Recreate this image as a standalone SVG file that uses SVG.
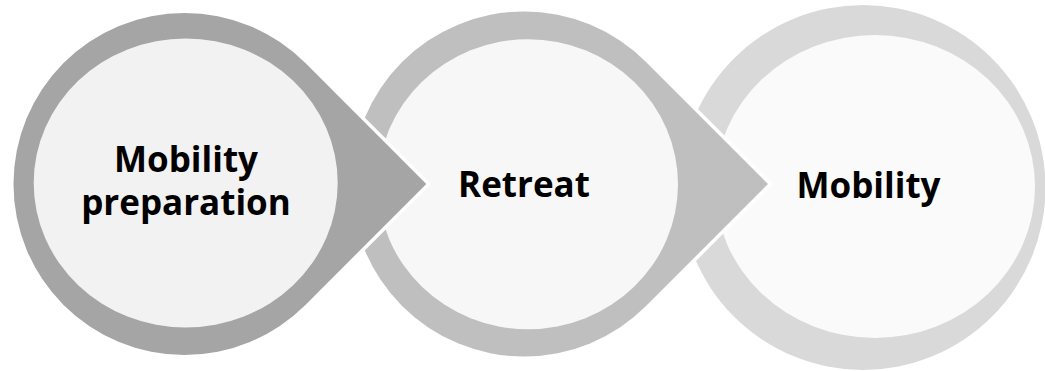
<svg xmlns="http://www.w3.org/2000/svg" width="1045" height="371" viewBox="0 0 1045 371">
  <style>
    .ring { stroke: #FFFFFF; stroke-width: 7; stroke-linejoin: miter; paint-order: stroke; }
    .lbl { font-family: "Open Sans", "Liberation Sans", sans-serif; font-weight: bold; font-size: 35px; fill: #000000; text-anchor: middle; }
  </style>
  <rect x="0" y="0" width="1045" height="371" fill="#FFFFFF"/>
  <g id="node-mobility">
    <circle class="ring" cx="863" cy="187.5" r="182.5" fill="#D9D9D9"/>
    <ellipse cx="875" cy="186.5" rx="160" ry="151.5" fill="#FAFAFA"/>
    <text class="lbl" x="868.5" y="198">Mobility</text>
  </g>
  <g id="node-retreat">
    <path class="ring" fill="#BFBFBF" d="M768,184 L646,62 A172.5,172.5 0 1 0 646,306 Z"/>
    <ellipse cx="528" cy="184.3" rx="150" ry="145" fill="#F7F7F7"/>
    <text class="lbl" x="524" y="197">Retreat</text>
  </g>
  <g id="node-mobility-preparation">
    <path class="ring" fill="#A5A5A5" d="M426.3,184 L305.4,63.1 A171,171 0 1 0 305.4,304.9 Z"/>
    <ellipse cx="185.7" cy="183" rx="152" ry="144.5" fill="#F2F2F2"/>
    <text class="lbl" x="186" y="171.5">Mobility</text>
    <text class="lbl" x="186" y="215">preparation</text>
  </g>
  <g id="connectors"></g>
</svg>
